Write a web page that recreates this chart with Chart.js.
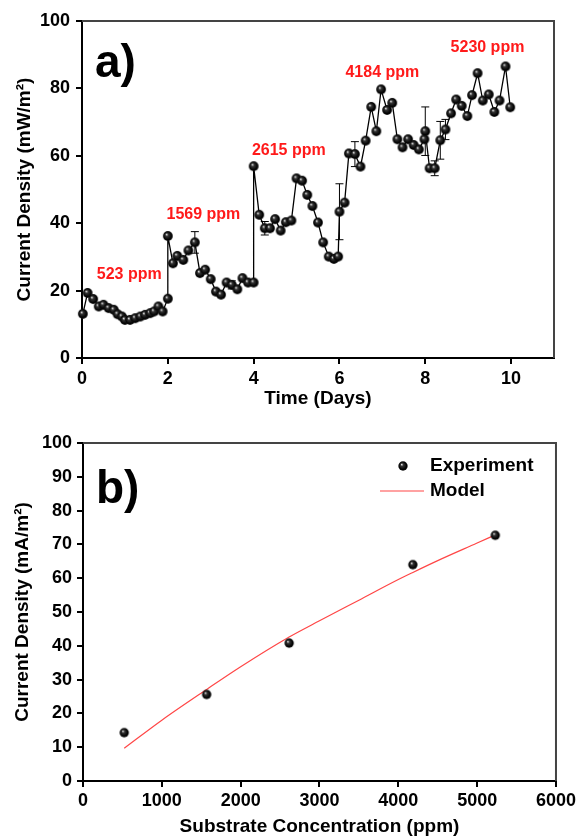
<!DOCTYPE html>
<html><head><meta charset="utf-8">
<script src="https://cdn.jsdelivr.net/npm/chart.js@4/dist/chart.umd.min.js"></script>
<style>
html,body{margin:0;padding:0;background:#fff;width:579px;height:836px;overflow:hidden}
#ca{position:absolute;left:0;top:0}
#cb{position:absolute;left:0;top:415px}
</style></head><body>
<canvas id="ca" width="579" height="415"></canvas>
<canvas id="cb" width="579" height="421"></canvas>
<script>
// ---------- Data: panel a) ----------
const days = [0.02,0.13,0.26,0.39,0.50,0.62,0.74,0.83,0.93,1.00,1.12,1.24,1.36,1.47,1.59,1.68,1.78,1.88,2.00,
  2.00,2.12,2.22,2.36,2.48,2.63,2.75,2.87,3.00,3.12,3.24,3.37,3.49,3.62,3.74,3.87,4.00,
  4.00,4.13,4.26,4.38,4.50,4.63,4.75,4.88,5.00,5.13,5.25,5.37,5.50,5.62,5.75,5.87,5.97,
  6.00,6.12,6.22,6.36,6.49,6.61,6.74,6.86,6.97,7.11,7.23,7.35,7.47,7.60,7.73,7.85,7.98,
  8.00,8.10,8.22,8.35,8.47,8.60,8.72,8.85,8.98,9.09,9.22,9.34,9.48,9.61,9.73,9.87,9.98];
const powerDensity = [13.1,19.3,17.5,15.3,15.8,14.8,14.3,13.0,12.3,11.3,11.3,11.8,12.3,12.8,13.3,13.8,15.3,13.8,17.6,
  36.2,28.1,30.3,29.1,31.9,34.3,25.2,26.2,23.4,19.7,18.8,22.4,21.7,20.4,23.7,22.4,22.4,
  56.9,42.5,38.5,38.5,41.2,37.8,40.3,40.8,53.3,52.6,48.4,45.1,40.2,34.3,30.1,29.4,30.1,
  43.4,46.1,60.7,60.5,56.8,64.5,74.5,67.3,79.7,73.6,75.7,64.9,62.5,64.9,63.2,61.9,64.9,
  67.3,56.3,56.3,64.6,67.8,72.6,76.7,74.8,71.8,78.0,84.5,76.4,78.2,73.0,76.4,86.5,74.4];
const powerError = [0,0,0,0,0,0,0,0,0,0,0,0,0,0,0,0,0,0,0,
  0,0,0,0,0,3.2,0,0,0,0,0,0,1.2,0,0,0,0,
  0,0,2.0,0,0,0,0,0,0,0,0,0,0,0,0,0,0,
  8.3,0,0,3.7,0,0,0,0,0,0,0,0,0,0,0,0,0,
  7.2,0,2.2,5.6,3.0,0,0,0,0,0,0,0,0,0,0,0,0];
const dayTicks = [0,2,4,6,8,10];
const powerTicks = [0,20,40,60,80,100];
const concLabels = ['523 ppm','1569 ppm','2615 ppm','4184 ppm','5230 ppm'];

// ---------- Data: panel b) ----------
const substrate = [523,1569,2615,4184,5230];
const currentDensity = [14.3,25.6,40.8,64.0,72.7];
const modelSubstrate = [523,1000,1569,2000,2615,3000,3500,4000,4184,4500,5000,5230];
const modelCurrent = [9.7,18.0,27.1,33.8,42.6,47.4,53.5,59.6,61.7,65.2,70.4,72.8];
const concTicks = [0,1000,2000,3000,4000,5000,6000];
const currentTicks = [0,10,20,30,40,50,60,70,80,90,100];

// ---------- layout / style ----------
const FONT = "'Liberation Sans', Arial, sans-serif";
const labelAnchors = [[1.10,24.7],[2.83,42.5],[4.82,61.4],[7.0,84.8],[9.45,92.2]];

function ball(r){
  const s = Math.ceil(r*2+2);
  const c = document.createElement('canvas'); c.width = c.height = s;
  const g = c.getContext('2d'); const cx = s/2, cy = s/2;
  const gr = g.createRadialGradient(cx-r*0.3, cy-r*0.35, 0.2, cx, cy, r);
  gr.addColorStop(0,'#e0e0e0'); gr.addColorStop(0.3,'#333'); gr.addColorStop(0.8,'#000'); gr.addColorStop(1,'#1a1a1a');
  g.fillStyle = gr; g.beginPath(); g.arc(cx,cy,r,0,Math.PI*2); g.fill();
  return c;
}
const ballA = ball(4.9), ballB = ball(4.7);

const frame = {
  id:'frame',
  afterDraw(chart){
    const {ctx, chartArea:a} = chart;
    ctx.save(); ctx.strokeStyle = '#444'; ctx.lineWidth = 2;
    ctx.beginPath(); ctx.moveTo(a.left, a.top); ctx.lineTo(a.right, a.top); ctx.lineTo(a.right, a.bottom); ctx.stroke();
    ctx.restore();
  }
};
const panelLetter = (txt, x, y) => ({
  id:'letter'+txt,
  afterDraw(chart){
    const ctx = chart.ctx; ctx.save();
    ctx.font = "bold 46px " + FONT; ctx.fillStyle = '#000'; ctx.textBaseline = 'alphabetic';
    ctx.fillText(txt, x, y); ctx.restore();
  }
});
const errorBars = {
  id:'errorBars',
  beforeDatasetsDraw(chart){
    const {ctx, scales:{x,y}} = chart;
    ctx.save(); ctx.strokeStyle = '#000'; ctx.lineWidth = 1;
    powerError.forEach((e,i)=>{
      if(!e) return;
      const px = x.getPixelForValue(days[i]);
      const p1 = y.getPixelForValue(powerDensity[i]+e), p2 = y.getPixelForValue(powerDensity[i]-e);
      ctx.beginPath();
      ctx.moveTo(px,p1); ctx.lineTo(px,p2);
      ctx.moveTo(px-4,p1); ctx.lineTo(px+4,p1);
      ctx.moveTo(px-4,p2); ctx.lineTo(px+4,p2);
      ctx.stroke();
    });
    ctx.restore();
  }
};
const concText = {
  id:'concText',
  afterDraw(chart){
    const {ctx, scales:{x,y}} = chart;
    ctx.save(); ctx.font = "bold 16px " + FONT; ctx.fillStyle = '#ff1a1a';
    ctx.textAlign = 'center'; ctx.textBaseline = 'middle';
    concLabels.forEach((t,i)=>ctx.fillText(t, x.getPixelForValue(labelAnchors[i][0]), y.getPixelForValue(labelAnchors[i][1])));
    ctx.restore();
  }
};
const legendB = {
  id:'legendB',
  afterDraw(chart){
    const ctx = chart.ctx; ctx.save();
    ctx.drawImage(ballB, 403 - ballB.width/2, 466-415 - ballB.height/2);
    ctx.strokeStyle = 'rgb(255,70,70)'; ctx.lineWidth = 1.2;
    ctx.beginPath(); ctx.moveTo(380, 491-415); ctx.lineTo(424, 491-415); ctx.stroke();
    ctx.font = "bold 19px " + FONT; ctx.fillStyle = '#000'; ctx.textBaseline = 'middle';
    ctx.fillText(chart.data.datasets[0].label, 430, 466-415);
    ctx.fillText(chart.data.datasets[1].label, 430, 491-415);
    ctx.restore();
  }
};

function axisBase(){
  return {
    grid:{display:true, drawOnChartArea:false, drawTicks:true, tickLength:6, color:'#000', lineWidth:2},
    border:{display:true, color:'#000', width:2},
  };
}
const plain = v => String(v);

Chart.defaults.font.family = FONT;
Chart.defaults.color = '#000';

new Chart(document.getElementById('ca'), {
  type:'line',
  data:{datasets:[{
    label:'Power density',
    data: days.map((d,i)=>({x:d, y:powerDensity[i]})),
    borderColor:'#000', borderWidth:1.3, pointStyle:ballA, pointRadius:4.9, tension:0, clip:false
  }]},
  options:{
    responsive:false, animation:false,
    layout:{padding:{left:0, top:21, right:25, bottom:0}},
    plugins:{legend:{display:false}, tooltip:{enabled:false}},
    scales:{
      x:Object.assign(axisBase(), {
        type:'linear', min:0, max:11,
        afterBuildTicks:s=>{ s.ticks = dayTicks.map(v=>({value:v})); },
        afterFit:s=>{ s.height = 57; },
        ticks:{font:{size:18, weight:'bold'}, color:'#000', padding:4, maxRotation:0, callback:plain},
        title:{display:true, text:'Time (Days)', font:{size:19, weight:'bold', lineHeight:1.1}, color:'#000', padding:{top:0,bottom:6}}
      }),
      y:Object.assign(axisBase(), {
        type:'linear', min:0, max:100,
        afterBuildTicks:s=>{ s.ticks = powerTicks.map(v=>({value:v})); },
        afterFit:s=>{ s.width = 82; },
        ticks:{font:{size:18, weight:'bold'}, color:'#000', padding:6, callback:plain},
        title:{display:true, text:'Current Density (mW/m²)', font:{size:19, weight:'bold', lineHeight:1.1}, color:'#000', padding:{top:14,bottom:0}}
      })
    }
  },
  plugins:[errorBars, frame, concText, panelLetter('a)', 95, 77)]
});

new Chart(document.getElementById('cb'), {
  type:'scatter',
  data:{datasets:[
    {label:'Experiment', data: substrate.map((s,i)=>({x:s, y:currentDensity[i]})),
     pointStyle:ballB, pointRadius:4.7, showLine:false, clip:false, order:0},
    {label:'Model', data: modelSubstrate.map((s,i)=>({x:s, y:modelCurrent[i]})),
     showLine:true, borderColor:'rgb(255,70,70)', borderWidth:1.2, pointRadius:0, tension:0.4, cubicInterpolationMode:'monotone', order:1}
  ]},
  options:{
    responsive:false, animation:false,
    layout:{padding:{left:0, top:28, right:23, bottom:0}},
    plugins:{legend:{display:false}, tooltip:{enabled:false}},
    scales:{
      x:Object.assign(axisBase(), {
        type:'linear', min:0, max:6000,
        afterBuildTicks:s=>{ s.ticks = concTicks.map(v=>({value:v})); },
        afterFit:s=>{ s.height = 55; },
        ticks:{font:{size:18, weight:'bold'}, color:'#000', padding:3, maxRotation:0, callback:plain},
        title:{display:true, text:'Substrate Concentration (ppm)', font:{size:19, weight:'bold', lineHeight:1.0}, color:'#000', padding:{top:0,bottom:0}}
      }),
      y:Object.assign(axisBase(), {
        type:'linear', min:0, max:100,
        afterBuildTicks:s=>{ s.ticks = currentTicks.map(v=>({value:v})); },
        afterFit:s=>{ s.width = 83; },
        ticks:{font:{size:18, weight:'bold'}, color:'#000', padding:5, callback:plain},
        title:{display:true, text:'Current Density (mA/m²)', font:{size:19, weight:'bold', lineHeight:1.1}, color:'#000', padding:{top:12,bottom:0}}
      })
    }
  },
  plugins:[frame, legendB, panelLetter('b)', 96, 503-415)]
});
</script>
</body></html>
